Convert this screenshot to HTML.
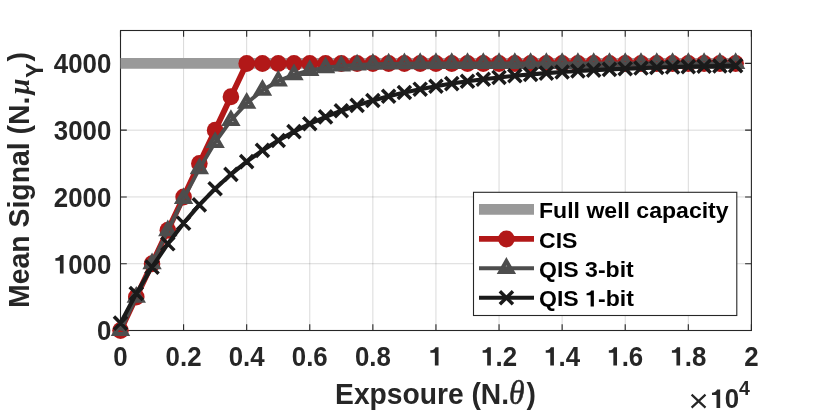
<!DOCTYPE html>
<html><head><meta charset="utf-8"><title>chart</title>
<style>html,body{margin:0;padding:0;background:#fff}svg{display:block;will-change:transform;transform:translateZ(0)}text{font-family:"Liberation Sans",sans-serif;font-weight:bold;fill:#262626}.sym{font-family:"Liberation Serif",serif;font-weight:normal;font-style:italic}.symb{font-family:"Liberation Serif",serif;font-weight:bold;font-style:italic}.reg{font-weight:normal}</style></head><body>
<svg width="830" height="415" viewBox="0 0 830 415">
<rect width="830" height="415" fill="#fff"/>
<path d="M183.59 30.5V330.5M246.68 30.5V330.5M309.77 30.5V330.5M372.86 30.5V330.5M435.95 30.5V330.5M499.04 30.5V330.5M562.13 30.5V330.5M625.22 30.5V330.5M688.31 30.5V330.5" stroke="#000" stroke-opacity="0.15" stroke-width="1" fill="none"/>
<path d="M120.5 263.72H751.4M120.5 196.94H751.4M120.5 130.17H751.4M120.5 63.39H751.4" stroke="#000" stroke-opacity="0.15" stroke-width="1" fill="none"/>
<rect x="120.5" y="30.5" width="630.9" height="300" fill="none" stroke="#262626" stroke-width="1.1"/>
<path d="M120.5 330.5v-6.3M120.5 30.5v6.3M183.59 330.5v-6.3M183.59 30.5v6.3M246.68 330.5v-6.3M246.68 30.5v6.3M309.77 330.5v-6.3M309.77 30.5v6.3M372.86 330.5v-6.3M372.86 30.5v6.3M435.95 330.5v-6.3M435.95 30.5v6.3M499.04 330.5v-6.3M499.04 30.5v6.3M562.13 330.5v-6.3M562.13 30.5v6.3M625.22 330.5v-6.3M625.22 30.5v6.3M688.31 330.5v-6.3M688.31 30.5v6.3M751.4 330.5v-6.3M751.4 30.5v6.3M120.5 330.5h6.3M751.4 330.5h-6.3M120.5 263.72h6.3M751.4 263.72h-6.3M120.5 196.94h6.3M751.4 196.94h-6.3M120.5 130.17h6.3M751.4 130.17h-6.3M120.5 63.39h6.3M751.4 63.39h-6.3" stroke="#262626" stroke-width="1.1" fill="none"/>
<path d="M120.5 63.39H735.63" stroke="#999999" stroke-width="10.6" fill="none"/>
<polyline points="120.5,330.5 136.27,297.11 152.05,263.72 167.82,230.33 183.59,196.94 199.36,163.56 215.13,130.17 230.91,96.78 246.68,63.39 262.45,63.39 278.23,63.39 294,63.39 309.77,63.39 325.54,63.39 341.31,63.39 357.09,63.39 372.86,63.39 388.63,63.39 404.4,63.39 420.18,63.39 435.95,63.39 451.72,63.39 467.5,63.39 483.27,63.39 499.04,63.39 514.81,63.39 530.59,63.39 546.36,63.39 562.13,63.39 577.9,63.39 593.67,63.39 609.45,63.39 625.22,63.39 640.99,63.39 656.76,63.39 672.54,63.39 688.31,63.39 704.08,63.39 719.85,63.39 735.63,63.39" fill="none" stroke="#B21818" stroke-width="5.8" stroke-linejoin="round"/>
<g fill="#B21818">
<ellipse cx="120.5" cy="330.5" rx="8.3" ry="8.5"/>
<ellipse cx="136.27" cy="297.11" rx="8.3" ry="8.5"/>
<ellipse cx="152.05" cy="263.72" rx="8.3" ry="8.5"/>
<ellipse cx="167.82" cy="230.33" rx="8.3" ry="8.5"/>
<ellipse cx="183.59" cy="196.94" rx="8.3" ry="8.5"/>
<ellipse cx="199.36" cy="163.56" rx="8.3" ry="8.5"/>
<ellipse cx="215.13" cy="130.17" rx="8.3" ry="8.5"/>
<ellipse cx="230.91" cy="96.78" rx="8.3" ry="8.5"/>
<ellipse cx="246.68" cy="63.39" rx="8.3" ry="8.5"/>
<ellipse cx="262.45" cy="63.39" rx="8.3" ry="8.5"/>
<ellipse cx="278.23" cy="63.39" rx="8.3" ry="8.5"/>
<ellipse cx="294" cy="63.39" rx="8.3" ry="8.5"/>
<ellipse cx="309.77" cy="63.39" rx="8.3" ry="8.5"/>
<ellipse cx="325.54" cy="63.39" rx="8.3" ry="8.5"/>
<ellipse cx="341.31" cy="63.39" rx="8.3" ry="8.5"/>
<ellipse cx="357.09" cy="63.39" rx="8.3" ry="8.5"/>
<ellipse cx="372.86" cy="63.39" rx="8.3" ry="8.5"/>
<ellipse cx="388.63" cy="63.39" rx="8.3" ry="8.5"/>
<ellipse cx="404.4" cy="63.39" rx="8.3" ry="8.5"/>
<ellipse cx="420.18" cy="63.39" rx="8.3" ry="8.5"/>
<ellipse cx="435.95" cy="63.39" rx="8.3" ry="8.5"/>
<ellipse cx="451.72" cy="63.39" rx="8.3" ry="8.5"/>
<ellipse cx="467.5" cy="63.39" rx="8.3" ry="8.5"/>
<ellipse cx="483.27" cy="63.39" rx="8.3" ry="8.5"/>
<ellipse cx="499.04" cy="63.39" rx="8.3" ry="8.5"/>
<ellipse cx="514.81" cy="63.39" rx="8.3" ry="8.5"/>
<ellipse cx="530.59" cy="63.39" rx="8.3" ry="8.5"/>
<ellipse cx="546.36" cy="63.39" rx="8.3" ry="8.5"/>
<ellipse cx="562.13" cy="63.39" rx="8.3" ry="8.5"/>
<ellipse cx="577.9" cy="63.39" rx="8.3" ry="8.5"/>
<ellipse cx="593.67" cy="63.39" rx="8.3" ry="8.5"/>
<ellipse cx="609.45" cy="63.39" rx="8.3" ry="8.5"/>
<ellipse cx="625.22" cy="63.39" rx="8.3" ry="8.5"/>
<ellipse cx="640.99" cy="63.39" rx="8.3" ry="8.5"/>
<ellipse cx="656.76" cy="63.39" rx="8.3" ry="8.5"/>
<ellipse cx="672.54" cy="63.39" rx="8.3" ry="8.5"/>
<ellipse cx="688.31" cy="63.39" rx="8.3" ry="8.5"/>
<ellipse cx="704.08" cy="63.39" rx="8.3" ry="8.5"/>
<ellipse cx="719.85" cy="63.39" rx="8.3" ry="8.5"/>
<ellipse cx="735.63" cy="63.39" rx="8.3" ry="8.5"/>
</g>
<polyline points="120.5,330.5 136.27,297.11 152.05,263.74 167.82,230.63 183.59,198.52 199.36,168.67 215.13,142.36 230.91,120.46 246.68,103.19 262.45,90.25 278.23,80.98 294,74.59 309.77,70.35 325.54,67.62 341.31,65.91 357.09,64.86 372.86,64.23 388.63,63.87 404.4,63.66 420.18,63.54 435.95,63.47 451.72,63.43 467.5,63.41 483.27,63.4 499.04,63.4 514.81,63.39 530.59,63.39 546.36,63.39 562.13,63.39 577.9,63.39 593.67,63.39 609.45,63.39 625.22,63.39 640.99,63.39 656.76,63.39 672.54,63.39 688.31,63.39 704.08,63.39 719.85,63.39 735.63,63.39" fill="none" stroke="#4D4D4D" stroke-width="3.9" stroke-linejoin="round"/>
<path d="M120.5 323.4L126.65 334.05L114.35 334.05ZM136.27 290.01L142.42 300.66L130.12 300.66ZM152.05 256.64L158.2 267.29L145.9 267.29ZM167.82 223.53L173.97 234.18L161.67 234.18ZM183.59 191.42L189.74 202.07L177.44 202.07ZM199.36 161.57L205.51 172.22L193.21 172.22ZM215.13 135.26L221.28 145.91L208.98 145.91ZM230.91 113.35L237.06 124.01L224.76 124.01ZM246.68 96.09L252.83 106.74L240.53 106.74ZM262.45 83.15L268.6 93.8L256.3 93.8ZM278.23 73.87L284.38 84.53L272.08 84.53ZM294 67.49L300.15 78.14L287.85 78.14ZM309.77 63.25L315.92 73.9L303.62 73.9ZM325.54 60.52L331.69 71.17L319.39 71.17ZM341.31 58.8L347.46 69.46L335.16 69.46ZM357.09 57.76L363.24 68.41L350.94 68.41ZM372.86 57.13L379.01 67.78L366.71 67.78ZM388.63 56.77L394.78 67.42L382.48 67.42ZM404.4 56.55L410.55 67.21L398.25 67.21ZM420.18 56.43L426.33 67.09L414.03 67.09ZM435.95 56.37L442.1 67.02L429.8 67.02ZM451.72 56.33L457.87 66.98L445.57 66.98ZM467.5 56.31L473.64 66.96L461.35 66.96ZM483.27 56.3L489.42 66.95L477.12 66.95ZM499.04 56.29L505.19 66.95L492.89 66.95ZM514.81 56.29L520.96 66.94L508.66 66.94ZM530.59 56.29L536.74 66.94L524.44 66.94ZM546.36 56.29L552.51 66.94L540.21 66.94ZM562.13 56.29L568.28 66.94L555.98 66.94ZM577.9 56.29L584.05 66.94L571.75 66.94ZM593.67 56.29L599.82 66.94L587.52 66.94ZM609.45 56.29L615.6 66.94L603.3 66.94ZM625.22 56.29L631.37 66.94L619.07 66.94ZM640.99 56.29L647.14 66.94L634.84 66.94ZM656.76 56.29L662.91 66.94L650.62 66.94ZM672.54 56.29L678.69 66.94L666.39 66.94ZM688.31 56.29L694.46 66.94L682.16 66.94ZM704.08 56.29L710.23 66.94L697.93 66.94ZM719.85 56.29L726 66.94L713.7 66.94ZM735.63 56.29L741.78 66.94L729.48 66.94Z" fill="none" stroke="#4D4D4D" stroke-width="4.1" stroke-linejoin="miter"/>
<polyline points="120.5,323.15 136.27,293.44 152.05,267.12 167.82,243.82 183.59,223.17 199.36,204.89 215.13,188.7 230.91,174.35 246.68,161.65 262.45,150.41 278.23,140.44 294,131.62 309.77,123.81 325.54,116.89 341.31,110.76 357.09,105.34 372.86,100.53 388.63,96.28 404.4,92.51 420.18,89.17 435.95,86.22 451.72,83.6 467.5,81.29 483.27,79.24 499.04,77.42 514.81,75.81 530.59,74.39 546.36,73.13 562.13,72.01 577.9,71.02 593.67,70.15 609.45,69.37 625.22,68.68 640.99,68.08 656.76,67.54 672.54,67.06 688.31,66.64 704.08,66.27 719.85,65.94 735.63,65.65" fill="none" stroke="#1A1A1A" stroke-width="4.1" stroke-linejoin="round"/>
<path d="M113.95 316.6l13.1 13.1M113.95 329.7l13.1 -13.1M129.72 286.89l13.1 13.1M129.72 299.99l13.1 -13.1M145.5 260.57l13.1 13.1M145.5 273.67l13.1 -13.1M161.27 237.27l13.1 13.1M161.27 250.37l13.1 -13.1M177.04 216.62l13.1 13.1M177.04 229.72l13.1 -13.1M192.81 198.34l13.1 13.1M192.81 211.44l13.1 -13.1M208.58 182.15l13.1 13.1M208.58 195.25l13.1 -13.1M224.36 167.8l13.1 13.1M224.36 180.9l13.1 -13.1M240.13 155.1l13.1 13.1M240.13 168.2l13.1 -13.1M255.9 143.86l13.1 13.1M255.9 156.96l13.1 -13.1M271.68 133.89l13.1 13.1M271.68 146.99l13.1 -13.1M287.45 125.07l13.1 13.1M287.45 138.17l13.1 -13.1M303.22 117.26l13.1 13.1M303.22 130.36l13.1 -13.1M318.99 110.34l13.1 13.1M318.99 123.44l13.1 -13.1M334.76 104.21l13.1 13.1M334.76 117.31l13.1 -13.1M350.54 98.79l13.1 13.1M350.54 111.89l13.1 -13.1M366.31 93.98l13.1 13.1M366.31 107.08l13.1 -13.1M382.08 89.73l13.1 13.1M382.08 102.83l13.1 -13.1M397.85 85.96l13.1 13.1M397.85 99.06l13.1 -13.1M413.63 82.62l13.1 13.1M413.63 95.72l13.1 -13.1M429.4 79.67l13.1 13.1M429.4 92.77l13.1 -13.1M445.17 77.05l13.1 13.1M445.17 90.15l13.1 -13.1M460.94 74.74l13.1 13.1M460.94 87.84l13.1 -13.1M476.72 72.69l13.1 13.1M476.72 85.79l13.1 -13.1M492.49 70.87l13.1 13.1M492.49 83.97l13.1 -13.1M508.26 69.26l13.1 13.1M508.26 82.36l13.1 -13.1M524.04 67.84l13.1 13.1M524.04 80.94l13.1 -13.1M539.81 66.58l13.1 13.1M539.81 79.68l13.1 -13.1M555.58 65.46l13.1 13.1M555.58 78.56l13.1 -13.1M571.35 64.47l13.1 13.1M571.35 77.57l13.1 -13.1M587.12 63.6l13.1 13.1M587.12 76.7l13.1 -13.1M602.9 62.82l13.1 13.1M602.9 75.92l13.1 -13.1M618.67 62.13l13.1 13.1M618.67 75.23l13.1 -13.1M634.44 61.53l13.1 13.1M634.44 74.63l13.1 -13.1M650.22 60.99l13.1 13.1M650.22 74.09l13.1 -13.1M665.99 60.51l13.1 13.1M665.99 73.61l13.1 -13.1M681.76 60.09l13.1 13.1M681.76 73.19l13.1 -13.1M697.53 59.72l13.1 13.1M697.53 72.82l13.1 -13.1M713.3 59.39l13.1 13.1M713.3 72.49l13.1 -13.1M729.08 59.1l13.1 13.1M729.08 72.2l13.1 -13.1" fill="none" stroke="#1A1A1A" stroke-width="3.5"/>
<text transform="translate(113.31 365.6) scale(0.93 1)" font-size="27.8">0</text>
<text transform="translate(165.62 365.6) scale(0.93 1)" font-size="27.8">0.2</text>
<text transform="translate(228.71 365.6) scale(0.93 1)" font-size="27.8">0.4</text>
<text transform="translate(291.8 365.6) scale(0.93 1)" font-size="27.8">0.6</text>
<text transform="translate(354.89 365.6) scale(0.93 1)" font-size="27.8">0.8</text>
<path d="M438.54 365.6L434.86 365.6L434.86 352.75L430.34 352.75L430.34 350.34C432.54 350.34 434.35 349.38 435.51 347.2L438.54 347.2Z" fill="#262626"/>
<path d="M490.84 365.6L487.17 365.6L487.17 352.75L482.65 352.75L482.65 350.34C484.85 350.34 486.66 349.38 487.82 347.2L490.84 347.2Z" fill="#262626"/><text transform="translate(495.45 365.6) scale(0.93 1)" font-size="27.8">.2</text>
<path d="M553.93 365.6L550.26 365.6L550.26 352.75L545.74 352.75L545.74 350.34C547.94 350.34 549.75 349.38 550.91 347.2L553.93 347.2Z" fill="#262626"/><text transform="translate(558.54 365.6) scale(0.93 1)" font-size="27.8">.4</text>
<path d="M617.02 365.6L613.35 365.6L613.35 352.75L608.83 352.75L608.83 350.34C611.03 350.34 612.84 349.38 614 347.2L617.02 347.2Z" fill="#262626"/><text transform="translate(621.63 365.6) scale(0.93 1)" font-size="27.8">.6</text>
<path d="M680.11 365.6L676.44 365.6L676.44 352.75L671.92 352.75L671.92 350.34C674.12 350.34 675.93 349.38 677.09 347.2L680.11 347.2Z" fill="#262626"/><text transform="translate(684.72 365.6) scale(0.93 1)" font-size="27.8">.8</text>
<text transform="translate(744.21 365.6) scale(0.93 1)" font-size="27.8">2</text>
<text transform="translate(96.93 340.3) scale(0.93 1)" font-size="27.8">0</text>
<path d="M63.57 273.52L59.9 273.52L59.9 260.68L55.38 260.68L55.38 258.26C57.58 258.26 59.39 257.3 60.55 255.12L63.57 255.12Z" fill="#262626"/><text transform="translate(68.18 273.52) scale(0.93 1)" font-size="27.8">000</text>
<text transform="translate(53.8 206.74) scale(0.93 1)" font-size="27.8">2000</text>
<text transform="translate(53.8 139.97) scale(0.93 1)" font-size="27.8">3000</text>
<text transform="translate(53.8 73.19) scale(0.93 1)" font-size="27.8">4000</text>
<text transform="translate(335.1 404.0) scale(0.96 1)" font-size="29.4">Expsoure (N.<tspan class="sym" font-size="33" stroke="#262626" stroke-width="0.5">θ</tspan><tspan dx="1.9">)</tspan></text>
<text transform="translate(28.9 308.0) rotate(-90) scale(0.96 1)" font-size="29.6">Mean Signal (N.<tspan class="symb" font-size="30" dx="2">μ</tspan><tspan font-size="23" dy="14.3" dx="1.0">Y</tspan><tspan dy="-14.3" dx="1.6">)</tspan></text>
<path d="M691.6 394.6L705.5 407.6M691.6 407.6L705.5 394.6" stroke="#262626" stroke-width="2.2" fill="none"/>
<path d="M720.17 407.9L716.5 407.9L716.5 395.05L711.98 395.05L711.98 392.64C714.17 392.64 715.98 391.68 717.15 389.5L720.17 389.5Z" fill="#262626"/><text transform="translate(724.77 407.9) scale(0.93 1)" font-size="27.8">0</text>
<text x="739.0" y="395.4" font-size="19.5">4</text>
<rect x="473.5" y="192.3" width="263.3" height="123.2" fill="#fff" stroke="#262626" stroke-width="1.1"/>
<path d="M479.0 209.4H534.0" stroke="#999999" stroke-width="10.6"/>
<path d="M479.0 238.9H534.0" stroke="#B21818" stroke-width="5.8"/>
<ellipse cx="506.4" cy="238.9" rx="8.3" ry="8.5" fill="#B21818"/>
<path d="M479.0 268.3H534.0" stroke="#4D4D4D" stroke-width="3.9"/>
<path d="M506.4 261.2L512.55 271.85L500.25 271.85Z" fill="none" stroke="#4D4D4D" stroke-width="4.1"/>
<path d="M479.0 297.8H534.0" stroke="#1A1A1A" stroke-width="4.1"/>
<path d="M499.85 291.25l13.1 13.1M499.85 304.35l13.1 -13.1" fill="none" stroke="#1A1A1A" stroke-width="3.5"/>
<text transform="translate(539.0 218) scale(1.03 1)" font-size="22.4" style="fill:#000">Full well capacity</text>
<text transform="translate(539.0 247.5) scale(1.03 1)" font-size="22.4" style="fill:#000">CIS</text>
<text transform="translate(539.0 276.9) scale(1.03 1)" font-size="22.4" style="fill:#000">QIS 3-bit</text>
<text transform="translate(539 306.4) scale(1.03 1)" font-size="22.4" style="fill:#000">QIS </text><path d="M593.89 306.4L590.61 306.4L590.61 295.23L586.57 295.23L586.57 293.13C588.54 293.13 590.15 292.3 591.19 290.4L593.89 290.4Z" fill="#000"/><text transform="translate(598 306.4) scale(1.03 1)" font-size="22.4" style="fill:#000">-bit</text>
</svg></body></html>
